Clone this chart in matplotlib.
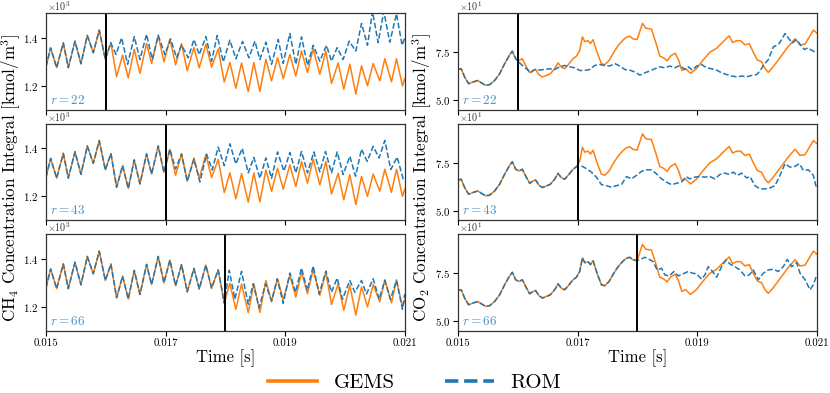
import numpy as np
import matplotlib
matplotlib.use("Agg")
import matplotlib.pyplot as plt
from matplotlib.lines import Line2D
from matplotlib.ticker import ScalarFormatter, FormatStrFormatter

plt.rcParams['font.family'] = ['cmr10', 'DejaVu Serif']
plt.rcParams['mathtext.fontset'] = 'cm'
plt.rcParams['axes.formatter.use_mathtext'] = True
plt.rcParams['axes.unicode_minus'] = False

# ---------------- data (time in ms) ----------------
# CH4 concentration integral, GEMS (values x10^3 kmol/m^3)
ch4_gems_t = [15.000, 15.078, 15.178, 15.290, 15.373, 15.485, 15.585, 15.691, 15.791, 15.891,
              15.992, 16.086, 16.181, 16.281, 16.376, 16.476, 16.571, 16.682, 16.766, 16.877,
              16.972, 17.072, 17.167, 17.267, 17.362, 17.474, 17.563, 17.674, 17.769, 17.880,
              17.981, 18.075, 18.175, 18.270, 18.382, 18.476, 18.577, 18.677, 18.772, 18.872,
              18.967, 19.078, 19.178, 19.273, 19.373, 19.468, 19.579, 19.680, 19.774, 19.886,
              19.980, 20.081, 20.181, 20.276, 20.376, 20.471, 20.582, 20.666, 20.777, 20.861,
              20.961, 21.000]
ch4_gems_v = [1.280, 1.358, 1.276, 1.379, 1.276, 1.386, 1.292, 1.410, 1.338, 1.432,
              1.310, 1.378, 1.238, 1.328, 1.233, 1.352, 1.252, 1.377, 1.293, 1.410,
              1.300, 1.395, 1.288, 1.376, 1.263, 1.360, 1.275, 1.374, 1.278, 1.354,
              1.216, 1.298, 1.190, 1.295, 1.176, 1.297, 1.177, 1.310, 1.221, 1.317,
              1.230, 1.331, 1.241, 1.345, 1.255, 1.355, 1.248, 1.345, 1.210, 1.296,
              1.186, 1.290, 1.166, 1.283, 1.200, 1.293, 1.221, 1.313, 1.217, 1.313,
              1.200, 1.230]

# CH4 ROM predictions after end of training
ch4_r22_t = [16.081, 16.170, 16.265, 16.365, 16.476, 16.571, 16.682, 16.777, 16.877, 16.989,
             17.084, 17.184, 17.267, 17.379, 17.474, 17.563, 17.674, 17.769, 17.863, 17.964,
             18.075, 18.175, 18.287, 18.393, 18.493, 18.577, 18.677, 18.772, 18.883, 18.967,
             19.078, 19.178, 19.273, 19.373, 19.468, 19.579, 19.691, 19.774, 19.869, 19.969,
             20.070, 20.181, 20.276, 20.376, 20.460, 20.554, 20.649, 20.749, 20.861, 20.955,
             21.000]
ch4_r22_v = [1.380, 1.331, 1.400, 1.290, 1.405, 1.310, 1.415, 1.310, 1.410, 1.330,
             1.395, 1.317, 1.370, 1.317, 1.393, 1.330, 1.405, 1.303, 1.410, 1.300,
             1.390, 1.313, 1.385, 1.317, 1.386, 1.310, 1.382, 1.290, 1.393, 1.294,
             1.418, 1.290, 1.404, 1.286, 1.369, 1.303, 1.369, 1.303, 1.359, 1.310,
             1.386, 1.345, 1.460, 1.369, 1.510, 1.380, 1.510, 1.382, 1.500, 1.369,
             1.400]

ch4_r43_t = [17.072, 17.167, 17.267, 17.362, 17.474, 17.574, 17.685, 17.780, 17.880, 17.981,
             18.075, 18.175, 18.281, 18.382, 18.476, 18.577, 18.677, 18.772, 18.872, 18.978,
             19.078, 19.178, 19.273, 19.373, 19.479, 19.579, 19.674, 19.774, 19.869, 19.969,
             20.081, 20.176, 20.276, 20.370, 20.471, 20.571, 20.666, 20.766, 20.872, 20.972,
             21.000]
ch4_r43_v = [1.397, 1.314, 1.377, 1.263, 1.355, 1.260, 1.376, 1.310, 1.405, 1.328,
             1.419, 1.335, 1.400, 1.298, 1.362, 1.275, 1.360, 1.275, 1.385, 1.305,
             1.383, 1.298, 1.387, 1.298, 1.385, 1.302, 1.387, 1.298, 1.385, 1.291,
             1.367, 1.284, 1.397, 1.346, 1.408, 1.360, 1.433, 1.312, 1.364, 1.273,
             1.280]

ch4_r66_t = [18.064, 18.159, 18.270, 18.382, 18.465, 18.565, 18.671, 18.772, 18.866, 18.967,
             19.078, 19.173, 19.273, 19.368, 19.468, 19.568, 19.680, 19.774, 19.869, 19.958,
             20.081, 20.164, 20.276, 20.359, 20.471, 20.571, 20.666, 20.760, 20.861, 20.961,
             21.000]
ch4_r66_v = [1.352, 1.232, 1.348, 1.211, 1.296, 1.197, 1.296, 1.225, 1.317, 1.215,
             1.341, 1.261, 1.362, 1.268, 1.370, 1.254, 1.349, 1.261, 1.320, 1.232,
             1.310, 1.261, 1.310, 1.254, 1.317, 1.232, 1.310, 1.232, 1.310, 1.190,
             1.254]

# CO2 concentration integral, GEMS (values x10^1 kmol/m^3)
co2_gems_t = [15.000, 15.056, 15.112, 15.179, 15.251, 15.335, 15.391, 15.463, 15.530, 15.614,
              15.698, 15.781, 15.865, 15.910, 15.966, 16.021, 16.077, 16.133, 16.200, 16.256,
              16.300, 16.356, 16.412, 16.479, 16.546, 16.618, 16.674, 16.730, 16.786, 16.858,
              16.925, 16.981, 17.037, 17.082, 17.121, 17.177, 17.216, 17.260, 17.327, 17.400,
              17.456, 17.528, 17.606, 17.679, 17.751, 17.818, 17.874, 17.930, 17.997, 18.086,
              18.142, 18.237, 18.309, 18.376, 18.443, 18.499, 18.555, 18.633, 18.689, 18.745,
              18.806, 18.890, 18.990, 19.102, 19.214, 19.325, 19.437, 19.537, 19.593, 19.660,
              19.727, 19.800, 19.872, 19.939, 20.006, 20.079, 20.135, 20.190, 20.274, 20.358,
              20.441, 20.525, 20.637, 20.721, 20.805, 20.877, 20.944, 21.000]
co2_gems_v = [6.60, 6.64, 6.21, 5.86, 5.95, 6.03, 5.91, 5.78, 5.81, 6.03,
              6.38, 6.90, 7.36, 7.55, 7.16, 7.07, 7.16, 6.81, 6.43, 6.55,
              6.60, 6.33, 6.21, 6.29, 6.38, 6.64, 6.95, 6.72, 6.64, 6.90,
              7.16, 7.29, 7.59, 8.30, 8.05, 8.10, 7.95, 8.15, 7.50, 6.90,
              6.85, 7.07, 7.50, 7.84, 8.10, 8.28, 8.33, 8.19, 8.16, 9.00,
              8.75, 8.70, 8.00, 7.30, 7.20, 7.05, 7.30, 7.45, 7.10, 6.55,
              6.65, 6.40, 6.65, 7.10, 7.50, 7.70, 8.05, 8.35, 8.00, 8.10,
              8.10, 7.88, 7.95, 7.50, 7.10, 7.00, 6.65, 6.45, 6.75, 7.10,
              7.45, 7.80, 8.20, 7.88, 7.92, 8.30, 8.65, 8.50]

co2_r22_t = [16.060, 16.144, 16.217, 16.284, 16.367, 16.451, 16.535, 16.618, 16.702, 16.786,
             16.870, 16.953, 17.037, 17.121, 17.204, 17.288, 17.372, 17.456, 17.539, 17.623,
             17.707, 17.791, 17.874, 17.958, 18.042, 18.126, 18.209, 18.293, 18.377, 18.460,
             18.544, 18.628, 18.712, 18.795, 18.851, 18.918, 18.991, 19.074, 19.158, 19.242,
             19.325, 19.409, 19.493, 19.577, 19.660, 19.744, 19.828, 19.912, 19.995, 20.051,
             20.107, 20.191, 20.274, 20.358, 20.414, 20.470, 20.525, 20.592, 20.665, 20.721,
             20.793, 20.849, 20.916, 21.000]
co2_r22_v = [6.86, 6.64, 6.43, 6.60, 6.57, 6.60, 6.64, 6.60, 6.74, 6.81,
             6.74, 6.69, 6.55, 6.55, 6.60, 6.81, 6.86, 6.81, 6.78, 6.91,
             6.78, 6.60, 6.57, 6.47, 6.31, 6.43, 6.52, 6.64, 6.74, 6.69,
             6.78, 6.69, 6.81, 6.60, 6.74, 6.57, 6.78, 6.86, 6.69, 6.64,
             6.57, 6.43, 6.34, 6.26, 6.22, 6.26, 6.22, 6.29, 6.34, 6.52,
             6.81, 7.12, 7.78, 7.90, 8.16, 8.47, 8.24, 7.98, 8.16, 7.90,
             7.64, 7.72, 7.60, 7.47]

co2_r43_t = [17.082, 17.149, 17.233, 17.316, 17.400, 17.484, 17.567, 17.651, 17.735, 17.818,
             17.902, 17.986, 18.070, 18.153, 18.237, 18.321, 18.405, 18.488, 18.572, 18.656,
             18.739, 18.812, 18.879, 18.963, 19.046, 19.130, 19.214, 19.298, 19.381, 19.465,
             19.537, 19.605, 19.672, 19.744, 19.828, 19.884, 19.967, 20.051, 20.135, 20.219,
             20.302, 20.386, 20.470, 20.553, 20.637, 20.709, 20.777, 20.860, 20.944, 21.000]
co2_r43_v = [7.31, 7.19, 7.01, 6.75, 6.36, 6.31, 6.22, 6.31, 6.36, 6.78,
             6.66, 6.84, 7.05, 7.13, 7.13, 6.92, 6.66, 6.49, 6.36, 6.43,
             6.49, 6.78, 6.66, 6.75, 6.78, 6.75, 6.78, 6.66, 6.89, 6.96,
             6.89, 7.01, 6.84, 6.96, 6.71, 6.78, 6.31, 6.14, 6.14, 6.19,
             6.31, 6.84, 7.45, 7.27, 7.31, 7.45, 7.10, 7.13, 6.84, 6.14]

co2_r66_t = [18.053, 18.126, 18.198, 18.265, 18.332, 18.405, 18.460, 18.533, 18.611, 18.684,
             18.767, 18.851, 18.924, 18.991, 19.074, 19.130, 19.186, 19.258, 19.325, 19.409,
             19.482, 19.549, 19.632, 19.716, 19.800, 19.872, 19.939, 20.023, 20.107, 20.191,
             20.274, 20.358, 20.441, 20.508, 20.581, 20.665, 20.721, 20.805, 20.888, 20.944,
             21.000]
co2_r66_v = [8.22, 8.33, 8.22, 8.10, 7.67, 7.76, 7.41, 7.36, 7.59, 7.36,
             7.47, 7.59, 7.50, 7.47, 7.19, 7.41, 7.84, 7.59, 7.29, 7.84,
             8.19, 7.98, 7.84, 7.67, 7.36, 7.41, 7.67, 7.16, 7.50, 7.67,
             7.71, 7.59, 7.84, 8.22, 7.84, 8.05, 7.50, 7.16, 6.64, 6.90,
             7.41]

ranks = [22, 43, 66]
train_end_ms = [16.0, 17.0, 18.0]
xtick_vals = [0.015, 0.017, 0.019, 0.021]
legend_labels = ["GEMS", "ROM"]

C_GEMS = '#ff7f0e'
C_ROM = '#1f77b4'

# ---------------- figure ----------------
fig, axes = plt.subplots(3, 2, figsize=(8.3, 3.93), dpi=100, sharex=True)
fig.subplots_adjust(left=0.0554, right=0.984, top=0.966, bottom=0.158,
                    hspace=0.145, wspace=0.148)

def rom_series(gt, gv, tend, pt, pv):
    gt = np.asarray(gt); gv = np.asarray(gv)
    m = gt <= tend
    t = np.concatenate([gt[m], np.asarray(pt)])
    v = np.concatenate([gv[m], np.asarray(pv)])
    return t * 1e-3, v

ch4_preds = [(ch4_r22_t, ch4_r22_v), (ch4_r43_t, ch4_r43_v), (ch4_r66_t, ch4_r66_v)]
co2_preds = [(co2_r22_t, co2_r22_v), (co2_r43_t, co2_r43_v), (co2_r66_t, co2_r66_v)]

for i in range(3):
    tend = train_end_ms[i]
    # CH4
    ax = axes[i, 0]
    ax.plot(np.asarray(ch4_gems_t) * 1e-3, np.asarray(ch4_gems_v) * 1e3,
            color=C_GEMS, lw=1.1)
    rt, rv = rom_series(ch4_gems_t, ch4_gems_v, tend, *ch4_preds[i])
    ax.plot(rt, rv * 1e3, color=C_ROM, lw=1.1, ls='--')
    ax.set_ylim(1100, 1502)
    ax.set_yticks([1200, 1400])
    # CO2
    ax2 = axes[i, 1]
    ax2.plot(np.asarray(co2_gems_t) * 1e-3, np.asarray(co2_gems_v) * 1e1,
             color=C_GEMS, lw=1.1)
    rt, rv = rom_series(co2_gems_t, co2_gems_v, tend, *co2_preds[i])
    ax2.plot(rt, rv * 1e1, color=C_ROM, lw=1.1, ls='--')
    ax2.set_ylim(45, 95.2)
    ax2.set_yticks([50, 75])

    for a, power in ((ax, 3), (ax2, 1)):
        a.axvline(tend * 1e-3, color='black', lw=1.4)
        a.set_xlim(0.015, 0.021)
        a.set_xticks(xtick_vals)
        a.xaxis.set_major_formatter(FormatStrFormatter('%.3f'))
        fmt = ScalarFormatter(useMathText=True)
        fmt.set_powerlimits((power, power))
        a.yaxis.set_major_formatter(fmt)
        a.yaxis.get_offset_text().set_visible(False)
        a.annotate(r'$\times10^{%d}$' % power, xy=(0.0, 1.0), xycoords='axes fraction',
                   xytext=(0.5, 1.5), textcoords='offset points',
                   fontsize=7.2, ha='left', va='baseline', color='#333333')
        a.tick_params(axis='both', labelsize=7.8, length=3.5, width=0.8,
                      direction='out', pad=2)
        a.text(0.012, 0.03, r'$r = %d$' % ranks[i], transform=a.transAxes,
               color=C_ROM, fontsize=9.5, ha='left', va='bottom', alpha=0.8)
        for s in a.spines.values():
            s.set_linewidth(0.9)
            s.set_color('#333333')

# axis labels
fig.text(225.5 / 830, 1 - 358 / 393, 'Time [s]', ha='center', va='center', fontsize=12)
fig.text(637.5 / 830, 1 - 358 / 393, 'Time [s]', ha='center', va='center', fontsize=12)
fig.text(11 / 830, 1 - 178 / 393, r'CH$_4$ Concentration Integral [kmol/m$^3$]',
         rotation=90, ha='center', va='center', fontsize=12.2)
fig.text(422 / 830, 1 - 178 / 393, r'CO$_2$ Concentration Integral [kmol/m$^3$]',
         rotation=90, ha='center', va='center', fontsize=12.2)

handles = [Line2D([], [], color=C_GEMS, lw=2.6),
           Line2D([], [], color=C_ROM, lw=2.6, ls='--')]
fig.legend(handles, legend_labels, loc='center', bbox_to_anchor=(0.4995, 0.025),
           ncol=2, frameon=False, fontsize=15, handlelength=2.35,
           handletextpad=0.8, columnspacing=2.4)

fig.savefig('out.png', dpi=100)
